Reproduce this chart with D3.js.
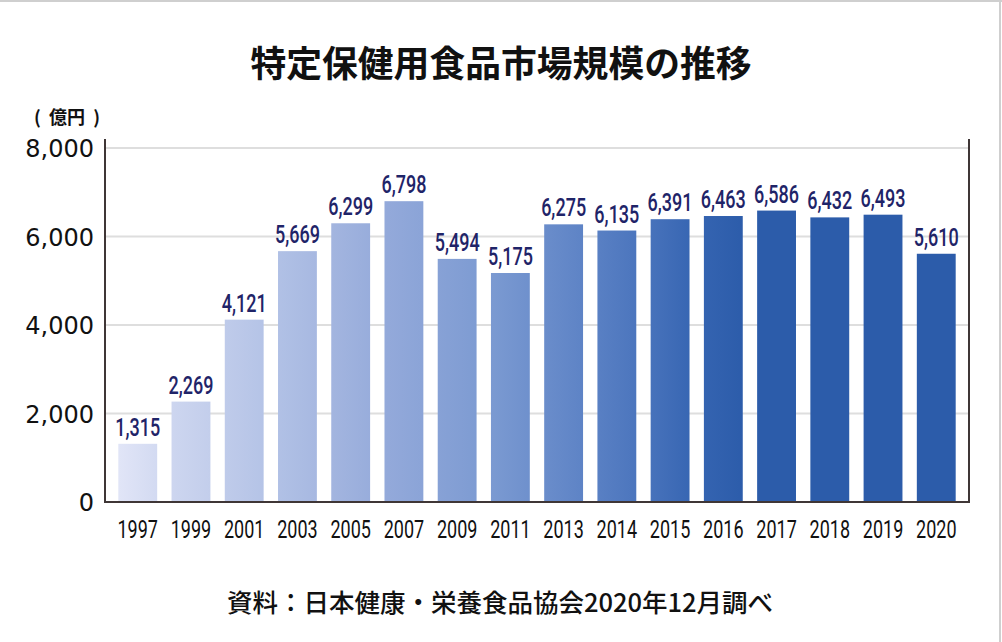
<!DOCTYPE html>
<html>
<head>
<meta charset="utf-8">
<script src="https://cdn.jsdelivr.net/npm/d3@7"></script>
<style>
  html, body { margin: 0; padding: 0; background: #fff; }
  svg { display: block; }
</style>
</head>
<body>
<svg id="chart" width="1002" height="642"></svg>
<script>
// ---- data ----
const years = ["1997","1999","2001","2003","2005","2007","2009","2011","2013","2014","2015","2016","2017","2018","2019","2020"];
const values = [1315, 2269, 4121, 5669, 6299, 6798, 5494, 5175, 6275, 6135, 6391, 6463, 6586, 6432, 6493, 5610];
const yTicks = [0, 2000, 4000, 6000, 8000];
const titleText = "特定保健用食品市場規模の推移";
const unitText = "(  億円  )";
const sourceText = "資料：日本健康・栄養食品協会2020年12月調べ";

// ---- layout ----
const W = 1002, H = 642;
const plot = { left: 105, right: 969, top: 139, bottom: 502 };

const svg = d3.select("#chart");

// outer frame (top & right visible)
svg.append("line").attr("x1", 0).attr("x2", W).attr("y1", 1).attr("y2", 1)
  .attr("stroke", "#cfcfcf").attr("stroke-width", 2);
svg.append("line").attr("x1", 1000).attr("x2", 1000).attr("y1", 0).attr("y2", H)
  .attr("stroke", "#cfcfcf").attr("stroke-width", 2);

const x = d3.scaleBand().domain(years).range([plot.left, plot.right])
  .paddingInner(0.27).paddingOuter(0.25);
const y = d3.scaleLinear().domain([0, 8000]).range([plot.bottom, 148]);

// gradient across whole chart
const defs = svg.append("defs");
const grad = defs.append("linearGradient").attr("id", "barGrad")
  .attr("gradientUnits", "userSpaceOnUse")
  .attr("x1", 119).attr("x2", 745).attr("y1", 0).attr("y2", 0);
const gstops = [
  [0.00, "#e1e5f7"], [0.09, "#ccd5ef"], [0.17, "#bfcbea"], [0.26, "#b0c0e5"],
  [0.34, "#a3b5df"], [0.43, "#93a9da"], [0.60, "#7a99d1"], [0.75, "#5c82c5"],
  [0.85, "#4772bb"], [0.92, "#3665b2"], [1.00, "#2c5caa"]
];
grad.selectAll("stop").data(gstops).join("stop")
  .attr("offset", d => d[0]).attr("stop-color", d => d[1]);

// gridlines
svg.append("g").selectAll("line").data(yTicks.filter(t => t > 0)).join("line")
  .attr("x1", plot.left).attr("x2", plot.right)
  .attr("y1", d => y(d)).attr("y2", d => y(d))
  .attr("stroke", "#dedede").attr("stroke-width", 2);

// bars
svg.append("g").selectAll("rect").data(values).join("rect")
  .attr("x", (d, i) => x(years[i]))
  .attr("width", x.bandwidth())
  .attr("y", d => y(d))
  .attr("height", d => y(0) - y(d))
  .attr("fill", "url(#barGrad)");

// value labels
const fmt = d3.format(",");
svg.append("g").selectAll("text").data(values).join("text")
  .attr("transform", (d, i) => `translate(${x(years[i]) + x.bandwidth() / 2},${y(d) - 8}) scale(0.68,1)`)
  .attr("text-anchor", "middle")
  .attr("font-family", "Roboto, 'Liberation Sans', sans-serif")
  .attr("font-size", 26.5)
  .attr("font-weight", 500)
  .attr("fill", "#1f2468")
  .text(d => fmt(d));

// axis frame
const frameColor = "#3f3636";
svg.append("line").attr("x1", plot.left).attr("x2", plot.left)
  .attr("y1", plot.top).attr("y2", plot.bottom + 1)
  .attr("stroke", frameColor).attr("stroke-width", 2);
svg.append("line").attr("x1", plot.right).attr("x2", plot.right)
  .attr("y1", plot.top).attr("y2", plot.bottom + 1)
  .attr("stroke", frameColor).attr("stroke-width", 2);
svg.append("line").attr("x1", plot.left - 1).attr("x2", plot.right + 1)
  .attr("y1", plot.bottom).attr("y2", plot.bottom)
  .attr("stroke", frameColor).attr("stroke-width", 2);

// x tick labels
svg.append("g").selectAll("text").data(years).join("text")
  .attr("transform", d => `translate(${x(d) + x.bandwidth() / 2},538) scale(0.68,1)`)
  .attr("text-anchor", "middle")
  .attr("font-family", "Roboto, 'Liberation Sans', sans-serif")
  .attr("font-size", 26.5)
  .attr("fill", "#111")
  .text(d => d);

// y tick labels
svg.append("g").selectAll("text").data(yTicks).join("text")
  .attr("x", 94).attr("y", d => y(d) + 9)
  .attr("text-anchor", "end")
  .attr("font-family", "'DejaVu Sans', sans-serif")
  .attr("font-size", 24)
  .attr("fill", "#111")
  .text(d => fmt(d));

// unit label
svg.append("text").attr("x", 34).attr("y", 124)
  .attr("font-family", "'Noto Sans CJK JP', sans-serif")
  .attr("font-size", 18).attr("font-weight", 700)
  .attr("fill", "#111")
  .attr("xml:space", "preserve")
  .style("white-space", "pre")
  .text(unitText);

// title
svg.append("text").attr("x", 501).attr("y", 77)
  .attr("text-anchor", "middle")
  .attr("font-family", "'Noto Sans CJK JP', sans-serif")
  .attr("font-size", 35.8).attr("font-weight", 700)
  .attr("fill", "#111")
  .text(titleText);

// source
svg.append("text").attr("x", 500).attr("y", 612)
  .attr("text-anchor", "middle")
  .attr("font-family", "'Noto Sans CJK JP', sans-serif")
  .attr("font-size", 25.5).attr("font-weight", 500)
  .attr("fill", "#111")
  .text(sourceText);
</script>
</body>
</html>
